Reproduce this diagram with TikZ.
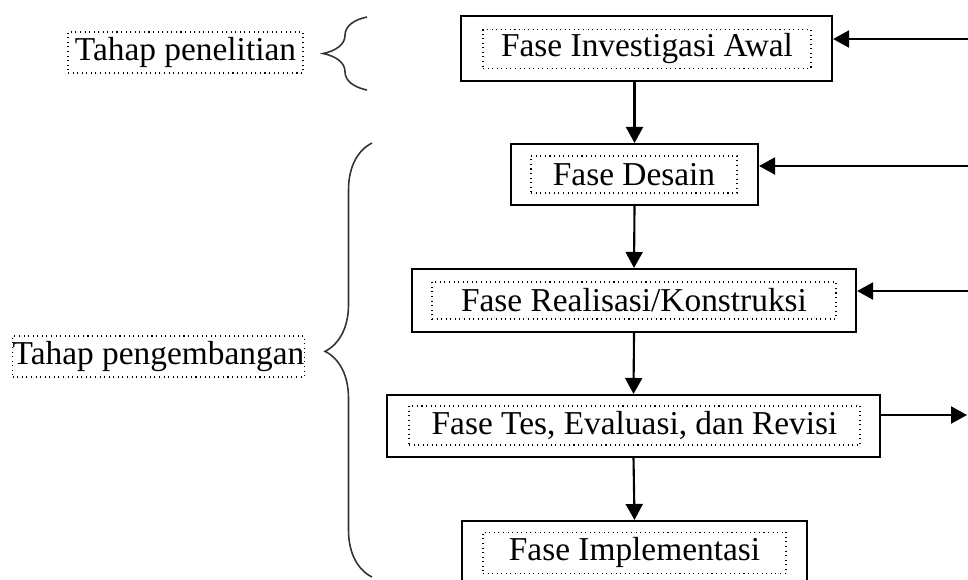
\documentclass[tikz,border=0pt]{standalone}
\usepackage{fontspec}
\setmainfont{Liberation Serif}
\usetikzlibrary{%
  arrows.meta,%
  decorations.pathreplacing,% wg. brace
  positioning%
}

\begin{document}
\begin{tikzpicture}
[font=\fontsize{9.5}{11}\selectfont, draw=black, line width=0.6pt, >={Triangle[length=1.6mm,width=1.7mm]},
phase/.style={rectangle, draw, line width=0.6pt, inner sep=0pt},
phasetxt/.style={rectangle, draw, line width=0.3pt, densely dotted, inner sep=0pt, minimum height=3.9mm},
stagetxt/.style={rectangle, draw, line width=0.3pt, densely dotted, inner sep=0pt, minimum height=4.1mm},
bracket/.style={decorate, line width=0.45pt, draw=black!80}]

\clip (0,0) rectangle (9.68,-5.79);

% phases
\node[phase, minimum width=3.71cm, minimum height=6.5mm] (investigasi) at (6.465,-0.485) {};
\node[phasetxt, minimum width=3.28cm] (investigasitxt) at (6.47,-0.49) {Fase Investigasi Awal};

\node[phase, minimum width=2.47cm, minimum height=6.1mm] (desain) at (6.345,-1.745) {};
\node[phasetxt, minimum width=2.06cm, minimum height=3.7mm] (desaintxt) at (6.34,-1.745) {Fase Desain};

\node[phase, minimum width=4.44cm, minimum height=6.3mm] (realisasi) at (6.34,-3.005) {};
\node[phasetxt, minimum width=4.04cm, minimum height=3.7mm] (realisasitxt) at (6.34,-3.005) {Fase Realisasi/Konstruksi};

\node[phase, minimum width=4.93cm, minimum height=6.2mm] (tes) at (6.335,-4.26) {};
\node[phasetxt, minimum width=4.51cm] (testxt) at (6.345,-4.255) {Fase Tes, Evaluasi, dan Revisi};

\node[phase, minimum width=3.45cm, minimum height=6.3mm] (implementasi) at (6.345,-5.525) {};
\node[phasetxt, minimum width=3.03cm, minimum height=4.1mm] (implementasitxt) at (6.345,-5.525) {Fase Implementasi};

\draw[->] (investigasi.south -| desain.north) -- (desain.north);
\draw[->] (desain.south) -- (realisasi.north);
\draw[->] (realisasi.south) -- (tes.north);
\draw[->] (tes.south) -- (implementasi.north);

% feedback from the right
\coordinate (r1) at (9.68,-0.39);
\coordinate (r2) at (9.68,-1.66);
\coordinate (r3) at (9.68,-2.91);
\coordinate (r4) at (9.67,-4.15);
\draw[->] (r1) -- (r1 -| investigasi.east);
\draw[->] (r2) -- (r2 -| desain.east);
\draw[->] (r3) -- (r3 -| realisasi.east);
\draw[->] (r4 -| tes.east) -- (r4);

% stages
\node[stagetxt, minimum width=2.35cm] (penelitian) at (1.855,-0.525) {Tahap penelitian};
\node[stagetxt, minimum width=2.91cm] (pengembangan) at (1.585,-3.565) {Tahap pengembangan};

\coordinate (b1s) at (3.67,-0.90);
\coordinate (b1e) at (3.67,-0.17);
\coordinate (b2s) at (3.72,-5.77);
\coordinate (b2e) at (3.72,-1.43);
\draw[bracket, decoration={brace, amplitude=4.4mm}] (b1s) -- (b1e);
\draw[bracket, decoration={brace, amplitude=4.7mm, aspect=0.52}] (b2s) -- (b2e);
\end{tikzpicture}
\end{document}
